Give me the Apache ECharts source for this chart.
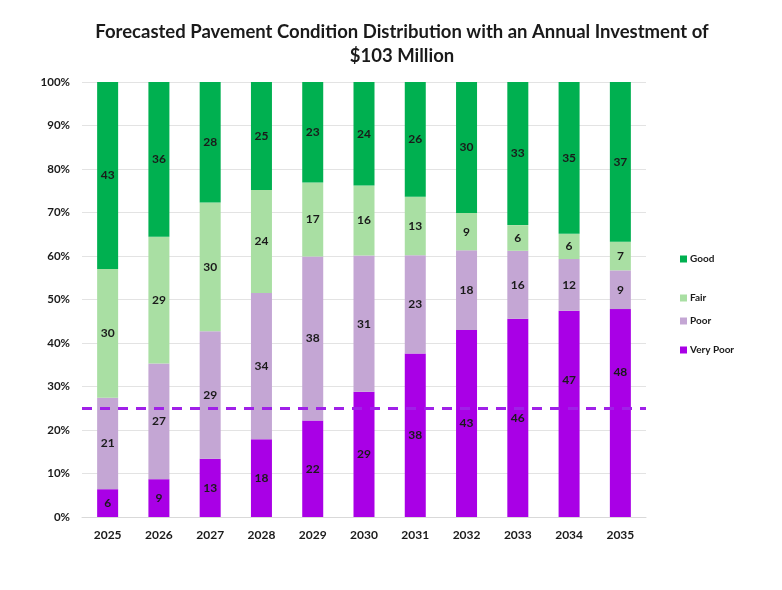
<!DOCTYPE html>
<html>
<head>
<meta charset="utf-8">
<script src="https://cdn.jsdelivr.net/npm/echarts@6/dist/echarts.min.js"></script>
<style>
html,body{margin:0;padding:0;background:#fff;}
#c{width:782px;height:590px;}
</style>
</head>
<body>
<div id="c"></div>
<script>
const years = ['2025','2026','2027','2028','2029','2030','2031','2032','2033','2034','2035'];
const veryPoor = [6.4, 8.7, 13.4, 17.9, 22.2, 28.8, 37.6, 43.0, 45.6, 47.4, 47.8];
const poor     = [21.0, 26.6, 29.3, 33.6, 37.7, 31.3, 22.6, 18.3, 15.6, 11.9, 8.9];
const fair     = [29.6, 29.1, 29.6, 23.7, 17.0, 16.1, 13.4, 8.6, 5.9, 5.8, 6.6];
const good     = [43.0, 35.6, 27.7, 24.8, 23.1, 23.8, 26.4, 30.1, 32.9, 34.9, 36.7];
const targetLine = 25;
const yTicks = [0,10,20,30,40,50,60,70,80,90,100];

const FONT = 'Lato, "Open Sans", sans-serif';
const colors = {good:'#00B050', fair:'#A9DFA3', poor:'#C4A6D4', vp:'#A900E6'};

// label nudges (pixels) for labels moved clear of the dashed line, by category index
const vpLabelNudge = {9:-34, 10:-41};

const lbl = {
  show:true, position:'inside', color:'#1a1a1a', fontWeight:'bold',
  fontSize:12, fontFamily:FONT,
  formatter: p => Math.round(p.value)
};

function ser(name, data, color, extra){
  return Object.assign({
    name, type:'bar', stack:'s', data, barWidth:21,
    itemStyle:{color}, label:lbl, emphasis:{disabled:true}
  }, extra||{});
}

const vpData = veryPoor.map((v,i)=> vpLabelNudge[i] !== undefined
  ? {value:v, label:{offset:[0, vpLabelNudge[i]]}} : v);

const legendTops = [249, 288, 311, 340];
const names = ['Good','Fair','Poor','Very Poor'];
const legends = names.map((n,i)=>({
  data:[n], left:675, top:legendTops[i], orient:'vertical',
  itemWidth:7, itemHeight:7, itemGap:4, icon:'rect',
  textStyle:{fontFamily:FONT, fontWeight:'bold', fontSize:10, color:'#1a1a1a', padding:[0,0,0,-2]},
  selectedMode:false
}));

const chart = echarts.init(document.getElementById('c'), null, {renderer:'canvas'});
chart.setOption({
  animation:false,
  color:[colors.vp, colors.poor, colors.fair, colors.good],
  title:{
    text:'Forecasted Pavement Condition Distribution with an Annual Investment of\n$103 Million',
    left:397, top:15, textAlign:'center',
    textStyle:{fontFamily:FONT, fontWeight:'bold', fontSize:18.5, color:'#1a1a1a', lineHeight:24}
  },
  legend: legends,
  grid:{left:82, right:136, top:82, bottom:73},
  xAxis:{
    type:'category', data:years,
    axisLine:{lineStyle:{color:'#d9d9d9'}},
    axisTick:{show:false},
    axisLabel:{fontFamily:FONT, fontWeight:'bold', fontSize:12, color:'#1a1a1a', margin:12}
  },
  yAxis:{
    type:'value', min:yTicks[0], max:yTicks[yTicks.length-1], interval:10,
    axisLabel:{fontFamily:FONT, fontWeight:'bold', fontSize:11.5, color:'#1a1a1a', formatter:'{value}%', margin:12},
    splitLine:{lineStyle:{color:'#e3e3e3'}},
    axisLine:{show:false}, axisTick:{show:false}
  },
  series:[
    ser('Very Poor', vpData, colors.vp, {
      markLine:{
        silent:true, symbol:'none', label:{show:false},
        lineStyle:{color:'#A020E8', type:[10,8], width:3},
        data:[{yAxis:targetLine}]
      }
    }),
    ser('Poor', poor, colors.poor),
    ser('Fair', fair, colors.fair),
    ser('Good', good, colors.good)
  ]
});
</script>
</body>
</html>
